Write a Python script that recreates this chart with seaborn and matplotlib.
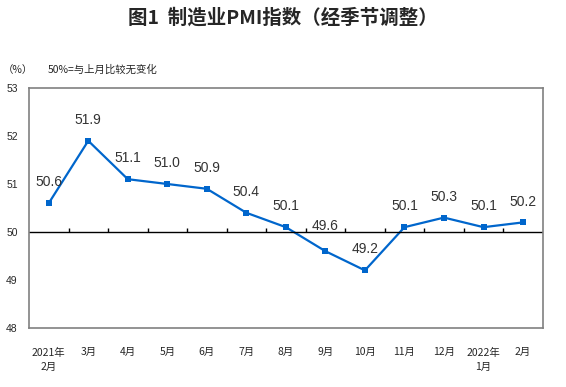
import numpy as np
import pandas as pd
import seaborn as sns
import matplotlib.pyplot as plt

months = ['2021年\n2月', '3月', '4月', '5月', '6月', '7月', '8月', '9月',
          '10月', '11月', '12月', '2022年\n1月', '2月']
pmi = [50.6, 51.9, 51.1, 51.0, 50.9, 50.4, 50.1, 49.6, 49.2, 50.1, 50.3, 50.1, 50.2]
y_ticks = [48, 49, 50, 51, 52, 53]

sns.set_style('white')
plt.rcParams['font.family'] = ['Noto Sans CJK SC', 'DejaVu Sans']

df = pd.DataFrame({'x': np.arange(len(months)), 'pmi': pmi})

fig = plt.figure(figsize=(5.66, 3.87), dpi=100)
ax = fig.add_axes([0.0512, 0.1525, 0.9078, 0.6201])

sns.lineplot(data=df, x='x', y='pmi', ax=ax, color='#0066CC', linewidth=1.6,
             marker='s', markersize=5, markeredgewidth=0)

ax.set_xlim(-0.5, len(months) - 0.5)
ax.set_ylim(48, 53)
ax.set_yticks(y_ticks)
ax.set_yticklabels([str(v) for v in y_ticks], fontsize=7.5,
                   family=['Liberation Sans', 'DejaVu Sans'])
ax.set_xticks(df['x'])
ax.set_xticklabels(months, fontsize=7.5, linespacing=1.5, va='top')
ax.tick_params(axis='both', length=0)
ax.tick_params(axis='x', pad=14)
ax.tick_params(axis='y', pad=8)
ax.set_xlabel('')
ax.set_ylabel('')

for sp in ax.spines.values():
    sp.set_color('#808080')
    sp.set_linewidth(1.2)

# baseline at 50 with ticks between months
ax.axhline(50, color='black', linewidth=1)
bounds = np.arange(0.5, len(months) - 0.5, 1.0)
ax.vlines(bounds, 50, 50.08, color='black', linewidth=1)

for i, v in enumerate(pmi):
    dy = 13 if i == 7 else 10  # 9月 label sits higher, clear of the line
    ax.annotate(f'{v:.1f}', (i, v), xytext=(0, dy), textcoords='offset points',
                ha='center', va='bottom', fontsize=10, color='#333333',
                family=['Liberation Sans', 'DejaVu Sans'])

fig.text(0.5, 0.955, '图1  制造业PMI指数（经季节调整）', ha='center', va='center',
         fontsize=14, fontweight='bold')
fig.text(0.005, 0.82, '（%）', ha='left', va='center', fontsize=7.5)
fig.text(0.085, 0.82, '50%=与上月比较无变化', ha='left', va='center', fontsize=7.5)

fig.savefig('out.png', dpi=100)
